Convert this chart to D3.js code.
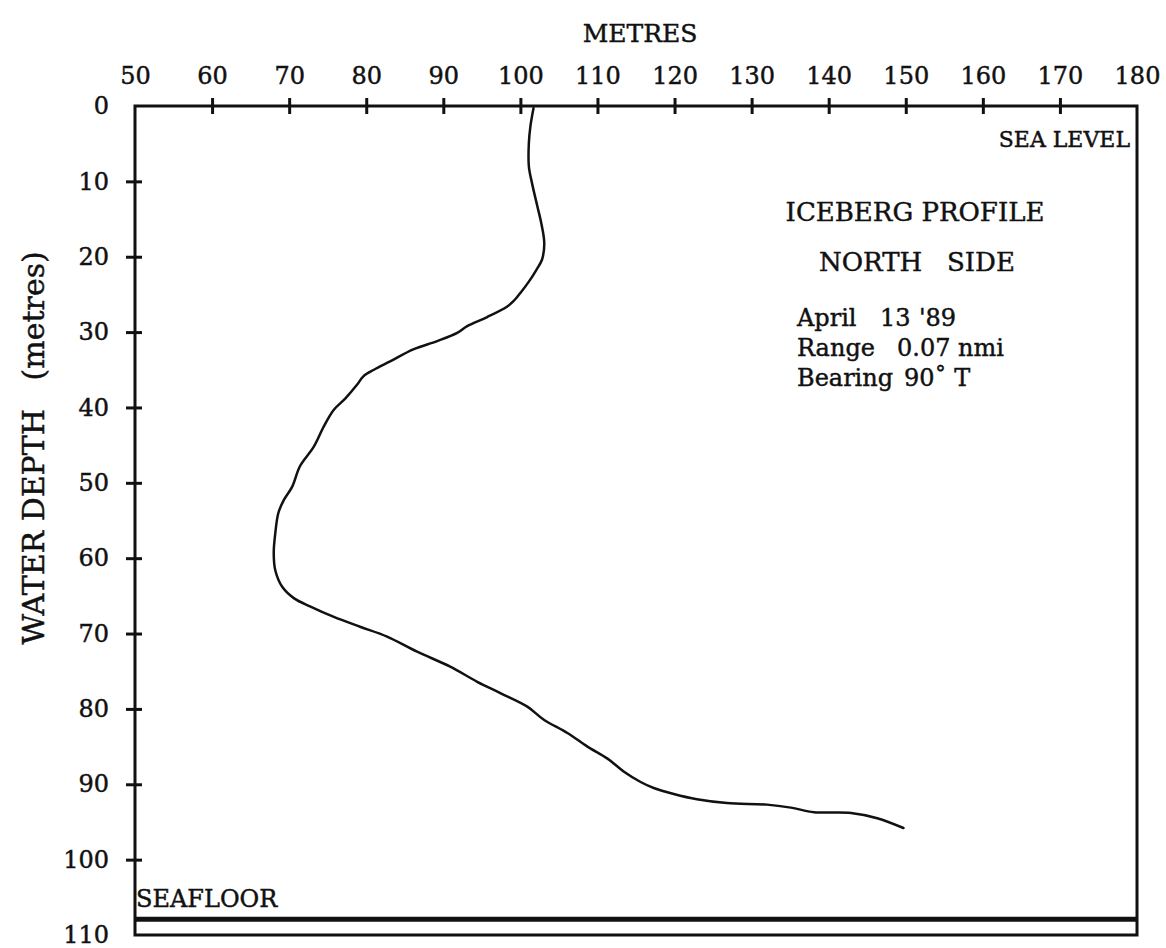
<!DOCTYPE html>
<html>
<head>
<meta charset="utf-8">
<script src="https://cdn.jsdelivr.net/npm/d3@7"></script>
<style>
  body { margin: 0; background: #fff; }
  text { font-family: 'DejaVu Serif', 'Liberation Serif', serif; fill: #111; stroke: #111; stroke-width: 0.45px; }
</style>
</head>
<body>
<script>
// iceberg profile, north side - width (metres) against water depth (metres)

// tick values for both axes
let widthTicks = [50, 60, 70, 80, 90, 100, 110, 120, 130, 140, 150, 160, 170, 180]
let depthTicks = [0, 10, 20, 30, 40, 50, 60, 70, 80, 90, 100, 110]

// the traced profile: depth and horizontal position in metres
let profileDepth = [0.3, 2.7, 4.9, 8.0, 10.2, 13.3, 15.5, 18.2, 20.4, 21.7, 23.3, 24.8, 25.9, 26.6,
  28.0, 29.2, 30.1, 31.2, 32.3, 33.9, 35.0, 35.9, 37.0, 38.8, 40.3, 42.5, 45.2, 47.8, 50.5, 52.3,
  54.0, 56.7, 59.3, 61.6, 63.8, 65.3, 66.4, 67.8, 69.1, 70.4, 72.4, 74.4, 76.4, 77.9, 79.7, 81.4,
  83.2, 85.0, 86.6, 88.3, 89.7, 90.5, 91.3, 92.0, 92.5, 92.7, 93.1, 93.7, 93.8, 94.5, 95.8]
let profileMetres = [101.7, 101.3, 101.1, 101.1, 101.5, 102.2, 102.7, 103.1, 102.8, 102.1, 101.1, 100.0, 99.1, 98.3,
  95.7, 93.1, 91.8, 89.2, 86.1, 83.1, 81.0, 79.6, 78.8, 77.3, 75.8, 74.5, 73.2, 71.4, 70.4, 69.3,
  68.6, 68.2, 68.0, 68.2, 69.1, 70.6, 72.7, 75.8, 79.2, 82.7, 86.6, 90.9, 94.4, 97.4, 100.9, 103.0,
  106.1, 108.7, 111.3, 113.4, 115.6, 117.3, 119.9, 122.9, 126.8, 132.0, 135.1, 138.1, 142.9, 146.3, 149.7]

let seafloorDepth = 107.9

// measurements for the plot
let m = {
  width: 1166,
  height: 948,
  left: 135,
  right: 1137,
  top: 106,
  bottom: 935,
}

let svg = d3.select('body')
  .append('svg')
  .attr('width', m.width)
  .attr('height', m.height)

let xScale = d3.scaleLinear()
  .domain([50, 180])
  .range([m.left, m.right])

let yScale = d3.scaleLinear()
  .domain([0, 110])
  .range([m.top, m.bottom])

// top axis (labels only, ticks drawn crossing the line below)
let xAxis = d3.axisTop(xScale)
  .tickValues(widthTicks)
  .tickSize(0)
  .tickPadding(22)

let gx = svg.append('g')
  .attr('transform', 'translate(0,' + m.top + ')')
  .call(xAxis)
gx.select('.domain').remove()
gx.selectAll('.tick text')
  .style('font-size', '24px')
  .style('font-family', "'DejaVu Serif', serif")
gx.selectAll('.tick')
  .filter(function(d) { return d > 50 && d < 180 })
  .append('line')
    .attr('y1', -8)
    .attr('y2', 8)
    .attr('stroke', '#111')
    .attr('stroke-width', 3)

// left axis
let yAxis = d3.axisLeft(yScale)
  .tickValues(depthTicks)
  .tickSize(0)
  .tickPadding(26)

let gy = svg.append('g')
  .attr('transform', 'translate(' + m.left + ',0)')
  .call(yAxis)
gy.select('.domain').remove()
gy.selectAll('.tick text')
  .style('font-size', '24px')
  .style('font-family', "'DejaVu Serif', serif")
gy.selectAll('.tick')
  .filter(function(d) { return d > 0 && d < 110 })
  .append('line')
    .attr('x1', -9)
    .attr('x2', 7)
    .attr('stroke', '#111')
    .attr('stroke-width', 3)

// frame
svg.append('rect')
  .attr('x', xScale(50))
  .attr('y', yScale(0))
  .attr('width', xScale(180) - xScale(50))
  .attr('height', yScale(110) - yScale(0))
  .attr('fill', 'none')
  .attr('stroke', '#111')
  .attr('stroke-width', 3)

// seafloor line
svg.append('line')
  .attr('x1', xScale(50))
  .attr('x2', xScale(180))
  .attr('y1', yScale(seafloorDepth))
  .attr('y2', yScale(seafloorDepth))
  .attr('stroke', '#111')
  .attr('stroke-width', 5)

// the profile
let line = d3.line()
  .x(function(d) { return xScale(d[0]) })
  .y(function(d) { return yScale(d[1]) })
  .curve(d3.curveCatmullRom)

svg.append('path')
  .datum(d3.zip(profileMetres, profileDepth))
  .attr('d', line)
  .attr('fill', 'none')
  .attr('stroke', '#111')
  .attr('stroke-width', 2.5)
  .attr('stroke-linejoin', 'round')
  .attr('stroke-linecap', 'round')

// axis titles
svg.append('text')
  .attr('x', 640)
  .attr('y', 42)
  .attr('text-anchor', 'middle')
  .style('font-size', '25px')
  .text('METRES')

svg.append('text')
  .attr('transform', 'translate(44,448) rotate(-90)')
  .attr('text-anchor', 'middle')
  .style('font-size', '30px')
  .style('white-space', 'pre')
  .text('WATER DEPTH   (metres)')

// annotations
svg.append('text')
  .attr('x', 1130)
  .attr('y', 147)
  .attr('text-anchor', 'end')
  .style('font-size', '22px')
  .text('SEA LEVEL')

svg.append('text')
  .attr('x', 136)
  .attr('y', 907)
  .style('font-size', '24px')
  .text('SEAFLOOR')

svg.append('text')
  .attr('x', 915)
  .attr('y', 221)
  .attr('text-anchor', 'middle')
  .style('font-size', '26px')
  .text('ICEBERG PROFILE')

svg.append('text')
  .attr('x', 917)
  .attr('y', 271)
  .attr('text-anchor', 'middle')
  .style('font-size', '26px')
  .style('white-space', 'pre')
  .text('NORTH   SIDE')

let notes = [
  [['April', 797], ['13', 880], ["'89", 919]],
  [['Range', 797], ['0.07 nmi', 897]],
  [['Bearing', 797], ['90\u02da T', 904]],
]
notes.forEach(function(row, i) {
  let t = svg.append('text')
    .attr('y', 326 + i * 30)
    .style('font-size', '24px')
  row.forEach(function(p) {
    t.append('tspan').attr('x', p[1]).text(p[0])
  })
})
</script>
</body>
</html>
